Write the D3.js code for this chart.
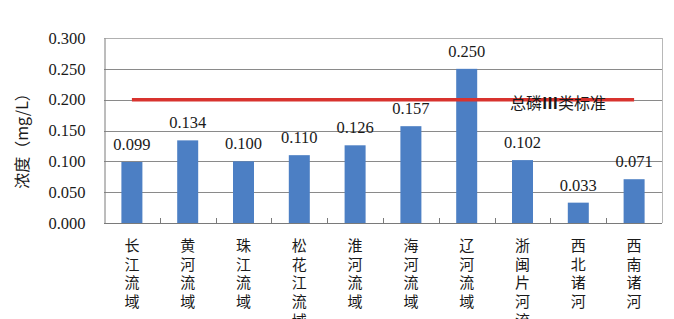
<!DOCTYPE html>
<html>
<head>
<meta charset="utf-8">
<script src="https://cdn.jsdelivr.net/npm/d3@7"></script>
<style>
  body { margin: 0; background: #fff; }
  svg { display: block; }
  .num { font-family: "Liberation Serif", "DejaVu Serif", serif; font-size: 16.5px; fill: #1a1a1a; }
  .cjk { font-family: "Noto Sans CJK SC", sans-serif; fill: #1a1a1a; }
  .vert { writing-mode: vertical-rl; letter-spacing: 3.6px; }
</style>
</head>
<body>
<script>
// data
var basins = ["长江流域", "黄河流域", "珠江流域", "松花江流域", "淮河流域",
              "海河流域", "辽河流域", "浙闽片河流", "西北诸河", "西南诸河"];
var values = [0.099, 0.134, 0.100, 0.110, 0.126, 0.157, 0.250, 0.102, 0.033, 0.071];
var standard = [0.2, 0.2, 0.2, 0.2, 0.2, 0.2, 0.2, 0.2, 0.2, 0.2];
var yTicks = [0, 0.05, 0.1, 0.15, 0.2, 0.25, 0.3];
var standardLabel = ["总磷", "Ⅲ", "类标准"];
var yTitle = "浓度（mg/L）";

var width = 674, height = 319;
var margin = {left: 104, right: 12, top: 38, bottom: 96};

var svg = d3.select("body").append("svg")
    .attr("width", width)
    .attr("height", height);

var x = d3.scaleBand()
    .domain(basins)
    .range([margin.left, width - margin.right]);

var y = d3.scaleLinear()
    .domain([0, 0.3])
    .range([height - margin.bottom, margin.top]);

// grid lines
svg.append("g").selectAll("line").data(yTicks).enter().append("line")
    .attr("x1", margin.left)
    .attr("x2", width - margin.right)
    .attr("y1", function(d) { return Math.round(y(d)) + 0.5; })
    .attr("y2", function(d) { return Math.round(y(d)) + 0.5; })
    .attr("stroke", function(d) { return d === 0.3 ? "#b0b0b0" : "#8a8a8a"; })
    .attr("stroke-width", 1);

// right border
svg.append("line")
    .attr("x1", width - margin.right + 0.5).attr("x2", width - margin.right + 0.5)
    .attr("y1", y(0.3)).attr("y2", y(0))
    .attr("stroke", "#b8b8b8");

// y axis
var yAxis = svg.append("g")
    .attr("transform", "translate(" + (margin.left + 0.5) + ",0)")
    .call(d3.axisLeft(y).tickValues(yTicks).tickSize(0).tickPadding(19)
        .tickFormat(d3.format(".3f")));
yAxis.attr("font-family", null).attr("font-size", null);
yAxis.select(".domain").attr("stroke", "#7a7a7a");
yAxis.selectAll("text").attr("class", "num").attr("fill", null);

// bars
var barW = 21;
svg.append("g").selectAll("rect").data(values).enter().append("rect")
    .attr("x", function(d, i) { return x(basins[i]) + x.bandwidth() / 2 - barW / 2; })
    .attr("y", function(d) { return y(d); })
    .attr("width", barW)
    .attr("height", function(d) { return y(0) - y(d); })
    .attr("fill", "#4c7fc4");

// x axis with inner ticks between categories
var bounds = basins.slice(1).map(function(b) { return x(b); });
svg.append("g").selectAll("line").data(bounds).enter().append("line")
    .attr("x1", function(d) { return Math.round(d) + 0.5; })
    .attr("x2", function(d) { return Math.round(d) + 0.5; })
    .attr("y1", y(0))
    .attr("y2", y(0) - 5)
    .attr("stroke", "#7a7a7a");
svg.append("line")
    .attr("x1", margin.left).attr("x2", width - margin.right)
    .attr("y1", Math.round(y(0)) + 0.5).attr("y2", Math.round(y(0)) + 0.5)
    .attr("stroke", "#7a7a7a");

// value labels
svg.append("g").selectAll("text").data(values).enter().append("text")
    .attr("class", "num")
    .attr("x", function(d, i) { return x(basins[i]) + x.bandwidth() / 2; })
    .attr("y", function(d) { return y(d) - 12; })
    .attr("text-anchor", "middle")
    .text(function(d) { return d3.format(".3f")(d); });

// standard line
var line = d3.line()
    .x(function(d, i) { return x(basins[i]) + x.bandwidth() / 2; })
    .y(function(d) { return y(d); });
svg.append("path")
    .datum(standard)
    .attr("d", line)
    .attr("fill", "none")
    .attr("stroke", "#d8332e")
    .attr("stroke-width", 3.5);

var stdText = svg.append("text")
    .attr("class", "cjk")
    .attr("x", 558)
    .attr("y", y(0.2) + 9)
    .attr("text-anchor", "middle")
    .attr("font-size", 16);
stdText.selectAll("tspan").data(standardLabel).enter().append("tspan")
    .attr("font-weight", function(d) { return d === "Ⅲ" ? "bold" : null; })
    .text(function(d) { return d; });

// category labels, written top to bottom
svg.append("g").selectAll("text").data(basins).enter().append("text")
    .attr("class", "cjk vert")
    .attr("x", function(d) { return x(d) + x.bandwidth() / 2; })
    .attr("y", y(0) + 15)
    .attr("font-size", 15)
    .text(function(d) { return d; });

// y title
svg.append("text")
    .attr("class", "cjk")
    .attr("transform", "translate(28,137) rotate(-90)")
    .attr("text-anchor", "middle")
    .attr("font-size", 16)
    .text(yTitle);
</script>
</body>
</html>
